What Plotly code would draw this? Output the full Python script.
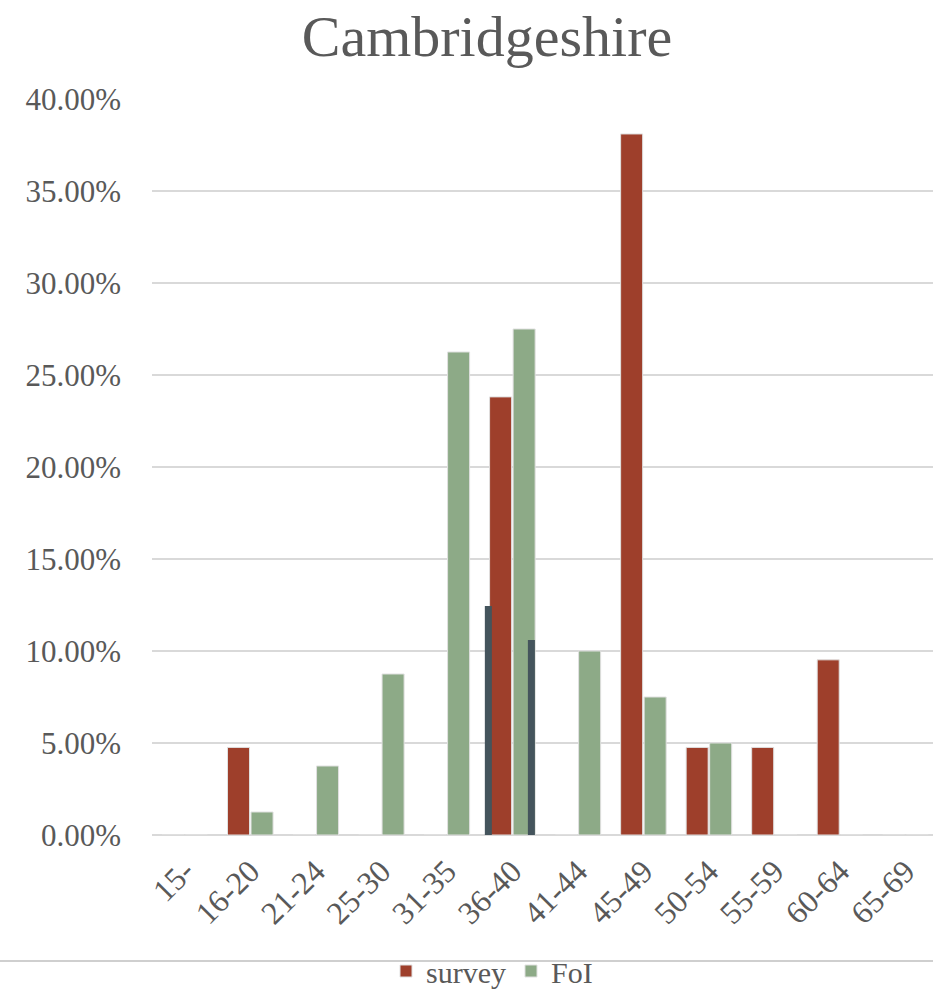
import plotly.graph_objects as go

categories = ["15-", "16-20", "21-24", "25-30", "31-35", "36-40", "41-44",
              "45-49", "50-54", "55-59", "60-64", "65-69"]
survey = [0, 4.76, 0, 0, 0, 23.81, 0, 38.10, 4.76, 4.76, 9.52, 0]
foi = [0, 1.25, 3.75, 8.75, 26.25, 27.50, 10.00, 7.50, 5.00, 0, 0, 0]
# thin dark marks visible around the 36-40 group
dark_left = {"36-40": 12.45}
dark_right = {"36-40": 10.6}

survey_color = "#9E3F2B"
foi_color = "#8DAA87"
dark_color = "#44545C"
text_color = "#595959"
font_family = "Liberation Serif, DejaVu Serif, serif"

W, H = 933, 993
L, R, T, B = 152, 0, 99, 158
plot_w = W - L - R
plot_h = H - T - B

fig = go.Figure()
fig.add_trace(go.Bar(x=categories, y=survey, name="survey",
                     marker=dict(color=survey_color, line=dict(color="#E0E0E0", width=1))))
fig.add_trace(go.Bar(x=categories, y=foi, name="FoI",
                     marker=dict(color=foi_color, line=dict(color="#E0E0E0", width=1))))
fig.add_trace(go.Bar(x=list(dark_left.keys()), y=list(dark_left.values()),
                     width=0.107, offset=-0.42, marker=dict(color=dark_color, line=dict(width=0)),
                     showlegend=False, hoverinfo="skip"))
fig.add_trace(go.Bar(x=list(dark_right.keys()), y=list(dark_right.values()),
                     width=0.107, offset=0.237, marker=dict(color=dark_color, line=dict(width=0)),
                     showlegend=False, hoverinfo="skip"))

fig.update_layout(
    width=W, height=H,
    barmode="group", bargap=0.282, bargroupgap=0.064,
    paper_bgcolor="white", plot_bgcolor="white",
    margin=dict(l=L, r=R, t=T, b=B, pad=0),
    font=dict(family=font_family, color=text_color, size=30),
    title=dict(text="Cambridgeshire", x=(487 - L) / plot_w, xref="paper", xanchor="center",
               y=1 - 36 / H, yanchor="middle",
               font=dict(size=58, color=text_color, family=font_family)),
    legend=dict(orientation="h", x=(492 - L) / plot_w, xanchor="center", yref="container",
                y=1 - 971 / H, yanchor="middle", font=dict(size=30, color=text_color),
                traceorder="normal", bgcolor="rgba(0,0,0,0)"),
    shapes=[dict(type="line", xref="paper", yref="paper", x0=-L / plot_w, x1=1,
                 y0=-(961 - (H - B)) / plot_h, y1=-(961 - (H - B)) / plot_h,
                 line=dict(color="#CFCFCF", width=2))],
)
fig.update_xaxes(categoryorder="array", categoryarray=categories, tickangle=-45,
                 range=[-0.5, 11.42], showgrid=False, showline=False, ticks="",
                 tickfont=dict(size=32), ticklabelstandoff=10)
fig.update_yaxes(range=[0, 40], dtick=5, tickformat=".2f", ticksuffix="%",
                 showgrid=True, gridcolor="#D9D9D9", gridwidth=2, zeroline=True,
                 zerolinecolor="#D9D9D9", zerolinewidth=2, showline=False, ticks="",
                 tickfont=dict(size=31), ticklabelstandoff=30)

fig.write_html("out.html")
